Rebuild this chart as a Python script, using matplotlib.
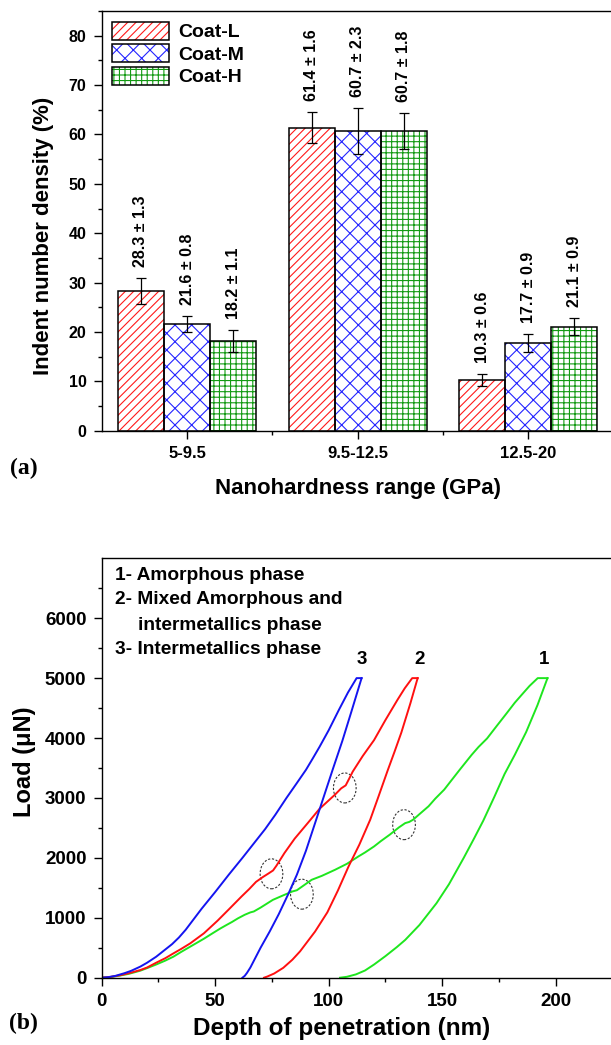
import numpy as np
import matplotlib
matplotlib.use('Agg')
import matplotlib.pyplot as plt
from matplotlib.patches import Patch, Ellipse
from matplotlib.ticker import MultipleLocator, FixedLocator

plt.rcParams['font.family'] = ['Liberation Sans', 'DejaVu Sans']
plt.rcParams['font.weight'] = 'bold'
plt.rcParams['hatch.linewidth'] = 0.8

# (a) indent number density per nanohardness range
ranges = ['5-9.5', '9.5-12.5', '12.5-20']
coatings = ['Coat-L', 'Coat-M', 'Coat-H']
density = {
    'Coat-L': [28.3, 61.4, 10.3],
    'Coat-M': [21.6, 60.7, 17.7],
    'Coat-H': [18.2, 60.7, 21.1],
}
density_sd = {
    'Coat-L': [1.3, 1.6, 0.6],
    'Coat-M': [0.8, 2.3, 0.9],
    'Coat-H': [1.1, 1.8, 0.9],
}
# error bars are drawn as +/- 2 s.d.
err_scale = 2

# (b) load-displacement curves (depth nm, load uN), loading then unloading
amorph_load_h = [0, 4, 8, 12, 17, 20, 24, 28, 31.6, 35, 39, 45, 49, 52.2, 55, 57.4, 60,
                 63, 65.5, 67, 70, 75.4, 80, 84, 86, 89, 92.5, 97, 102.8, 108, 113.1,
                 116, 120, 123, 126.9, 131, 133.7, 135.5, 137.2, 140, 144, 147, 150.9,
                 154, 157.8, 163, 166, 169.8, 174, 178.4, 182, 185, 188.5, 192.1, 196.4]
amorph_load_p = [0, 12, 35, 65, 117, 160, 220, 285, 351, 430, 518, 650, 745, 820, 880,
                 930, 990, 1050, 1090, 1105, 1170, 1299, 1375, 1439, 1460, 1540, 1634,
                 1700, 1801, 1900, 2024, 2090, 2191, 2280, 2387, 2510, 2580, 2600, 2637,
                 2730, 2861, 2990, 3139, 3290, 3474, 3720, 3850, 3994, 4200, 4413, 4590,
                 4720, 4870, 5000, 5000]
amorph_unload_h = [196.4, 192, 187, 182, 177.5, 173, 168.1, 164, 159.5, 153, 147.5, 140,
                   133.7, 130, 125, 120, 116, 112, 108, 105]
amorph_unload_p = [5000, 4550, 4100, 3720, 3400, 3020, 2620, 2320, 2000, 1560, 1243, 880,
                   630, 510, 360, 220, 120, 55, 15, 0]

mixed_load_h = [0, 4, 8, 12, 17, 20, 24, 28, 31.6, 35, 39, 45, 51, 56, 61.6, 65, 68, 71,
                73.5, 75.5, 77, 80.5, 85, 90.8, 96, 102.8, 105.5, 107.5, 109, 110.6, 115,
                120, 125, 130.3, 133.5, 136.8, 139.2]
mixed_load_p = [0, 14, 40, 75, 128, 170, 250, 325, 406, 480, 573, 740, 950, 1140, 1355,
                1480, 1600, 1680, 1740, 1790, 1870, 2080, 2320, 2582, 2820, 3056, 3160,
                3210, 3320, 3440, 3700, 3966, 4300, 4637, 4830, 5000, 5000]
mixed_unload_h = [139.2, 136, 132, 129, 126, 122, 118.3, 113.5, 108.8, 104, 99.4, 94,
                  87.4, 84, 80, 76, 73, 71.5]
mixed_unload_p = [5000, 4580, 4090, 3770, 3460, 3030, 2637, 2220, 1860, 1450, 1090, 770,
                  440, 300, 165, 70, 20, 0]

inter_load_h = [0, 3, 6, 10, 13, 17, 20, 24, 27, 31, 34, 37, 40, 44, 50, 56, 62, 67, 72,
                76.5, 81.4, 86, 90, 93, 96, 100, 104.5, 108.5, 112.3, 114.5]
inter_load_p = [0, 10, 30, 75, 115, 185, 250, 350, 440, 560, 670, 800, 950, 1150, 1430,
                1720, 2000, 2240, 2480, 2720, 3000, 3250, 3470, 3660, 3855, 4130, 4470,
                4760, 5000, 5000]
inter_unload_h = [114.5, 110, 106, 102, 98, 94, 90, 86, 82, 78, 74, 70, 67, 65.5, 64,
                  63, 62]
inter_unload_p = [5000, 4440, 3950, 3500, 3040, 2580, 2120, 1720, 1380, 1060, 770, 500,
                  280, 170, 80, 30, 0]

popin_h = [74.8, 88.2, 107.1, 133.2]
popin_p = [1734, 1394, 3167, 2554]

phase_notes = ['1- Amorphous phase', '2- Mixed Amorphous and', 'intermetallics phase',
               '3- Intermetallics phase']
curve_ids = ['1', '2', '3']
curve_id_h = [194.8, 140, 114.5]

hatch_colors = {'Coat-L': '#ff1a1a', 'Coat-M': '#2424ff', 'Coat-H': '#139a13'}
hatches = {'Coat-L': '////', 'Coat-M': 'xx', 'Coat-H': '+++'}

W, H = 611, 1045
fig = plt.figure(figsize=(W / 100, H / 100), dpi=100)
fig.patch.set_facecolor('white')

def style_axes(ax, tick_size):
    ax.spines['right'].set_visible(False)
    for s in ['left', 'bottom', 'top']:
        ax.spines[s].set_linewidth(1.0)
    ax.tick_params(which='major', direction='out', length=6, width=1.0,
                   labelsize=tick_size, pad=5, top=False, right=False)
    ax.tick_params(which='minor', direction='out', length=3, width=1.0,
                   top=False, right=False)
    for lab in ax.get_xticklabels() + ax.get_yticklabels():
        lab.set_fontweight('bold')

# ---- panel (a) ----
ax1 = fig.add_axes([101.7 / W, 1 - 430.7 / H, 511.8 / W, 419.7 / H])
x = np.arange(len(ranges))
width = 0.27
legend_handles = []
for i, c in enumerate(coatings):
    xs = x + (i - 1) * width
    ax1.bar(xs, density[c], width, color='white', edgecolor=hatch_colors[c],
            hatch=hatches[c], linewidth=0, zorder=2)
    ax1.bar(xs, density[c], width, fill=False, edgecolor='black', linewidth=1.1, zorder=3)
    yerr = err_scale * np.array(density_sd[c])
    ax1.errorbar(xs, density[c], yerr=yerr, fmt='none', ecolor='black',
                 elinewidth=0.9, capsize=3.5, capthick=0.9, zorder=4)
    for xi, v, s, e in zip(xs, density[c], density_sd[c], yerr):
        ax1.annotate('%.1f \u00b1 %.1f' % (v, s), xy=(xi, v + e), xytext=(0, 8),
                     textcoords='offset points', rotation=90, ha='center', va='bottom',
                     fontsize=11.5, fontweight='bold')
    legend_handles.append((Patch(facecolor='white', edgecolor=hatch_colors[c],
                                 hatch=hatches[c], linewidth=0),
                           Patch(fill=False, edgecolor='black', linewidth=1.1)))

ax1.set_xlim(-0.5, 2.5)
ax1.set_ylim(0, 85)
ax1.set_xticks(x)
ax1.set_xticklabels(ranges)
ax1.xaxis.set_minor_locator(FixedLocator([0.5, 1.5]))
ax1.yaxis.set_major_locator(MultipleLocator(10))
ax1.yaxis.set_minor_locator(MultipleLocator(5))
style_axes(ax1, 11.5)
for lab in ax1.get_xticklabels():
    lab.set_fontsize(12)

ax1.set_xlabel('Nanohardness range (GPa)', fontsize=16, fontweight='bold')
ax1.xaxis.set_label_coords(0.5, (430.7 - 489) / 419.7)
ax1.xaxis.label.set_verticalalignment('center')
ax1.set_ylabel('Indent number density (%)', fontsize=16, fontweight='bold')
ax1.yaxis.set_label_coords(-(101.7 - 44) / 511.8, 0.464)
ax1.yaxis.label.set_verticalalignment('center')

ax1.legend(legend_handles, coatings, loc='upper left',
           bbox_to_anchor=(10 / 511.8, 1 - 10.7 / 419.7), frameon=False,
           borderpad=0, borderaxespad=0, handlelength=2.94,
           handleheight=1.06, labelspacing=0.14, handletextpad=0.46,
           prop={'weight': 'bold', 'size': 14})

fig.text(24 / W, 1 - 468 / H, '(a)', family='Liberation Serif', fontweight='bold',
         fontsize=17, ha='center', va='center')

# ---- panel (b) ----
ax2 = fig.add_axes([101.7 / W, 1 - 977.7 / H, 510.7 / W, 419.4 / H])
lw = 1.4
ax2.plot(amorph_load_h, amorph_load_p, color='#1ee61e', lw=lw)
ax2.plot(amorph_unload_h, amorph_unload_p, color='#1ee61e', lw=lw)
ax2.plot(mixed_load_h, mixed_load_p, color='#ff1010', lw=lw)
ax2.plot(mixed_unload_h, mixed_unload_p, color='#ff1010', lw=lw)
ax2.plot(inter_load_h, inter_load_p, color='#1414f0', lw=lw)
ax2.plot(inter_unload_h, inter_unload_p, color='#1414f0', lw=lw)

for h, p in zip(popin_h, popin_p):
    ax2.add_patch(Ellipse((h, p), 10, 500, fill=False, edgecolor='#333333',
                          linewidth=0.8, linestyle=(0, (2, 1.5))))

for cid, h in zip(curve_ids, curve_id_h):
    ax2.text(h, 5304, cid, ha='center', va='center', fontsize=13.5, fontweight='bold')

note_y = [0.960, 0.9006, 0.8386, 0.7814]
note_x = [0.026, 0.026, 0.071, 0.026]
for t, nx, ny in zip(phase_notes, note_x, note_y):
    ax2.text(nx, ny, t, transform=ax2.transAxes, ha='left', va='center',
             fontsize=13.8, fontweight='bold')

ax2.set_xlim(0, 225)
ax2.set_ylim(0, 7000)
ax2.xaxis.set_major_locator(MultipleLocator(50))
ax2.xaxis.set_minor_locator(MultipleLocator(25))
ax2.yaxis.set_major_locator(FixedLocator(np.arange(0, 6001, 1000)))
ax2.yaxis.set_minor_locator(FixedLocator(np.arange(500, 6501, 1000)))
style_axes(ax2, 13.5)

ax2.set_xlabel('Depth of penetration (nm)', fontsize=17.5, fontweight='bold')
ax2.xaxis.set_label_coords((342 - 101.7) / 510.7, (977.7 - 1029) / 419.4)
ax2.xaxis.label.set_verticalalignment('center')
ax2.set_ylabel('Load (\u03bcN)', fontsize=17, fontweight='bold')
ax2.yaxis.set_label_coords(-(101.7 - 24) / 510.7, 0.514)
ax2.yaxis.label.set_verticalalignment('center')

fig.text(23 / W, 1 - 1023 / H, '(b)', family='Liberation Serif', fontweight='bold',
         fontsize=17, ha='center', va='center')

plt.savefig('out.png', dpi=100)
plt.close()
